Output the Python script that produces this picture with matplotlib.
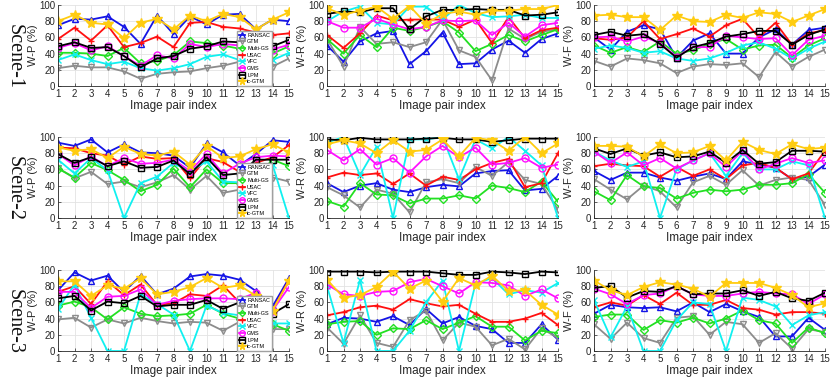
import matplotlib
matplotlib.use("Agg")
import matplotlib.pyplot as plt
import numpy as np

PAIRS = list(range(1, 16))
METHODS = ["RANSAC", "GTM", "Multi-GS", "USAC", "VFC", "GMS", "LPM", "ic-GTM"]
SCENES = ["Scene-1", "Scene-2", "Scene-3"]
METRICS = ["W-P (%)", "W-R (%)", "W-F (%)"]

# Scene-1
S1_WP = {
    "RANSAC":   [75, 83, 82, 86, 73, 52, 87, 64, 86, 76, 88, 89, 70, 82, 80],
    "GTM":      [22, 25, 23, 23, 18, 9, 15, 17, 18, 22, 25, 30, 30, 24, 34],
    "Multi-GS": [41, 41, 40, 37, 47, 28, 31, 38, 55, 53, 50, 46, 40, 40, 49],
    "USAC":     [58, 72, 56, 75, 48, 53, 61, 48, 78, 79, 73, 71, 66, 63, 65],
    "VFC":      [32, 39, 32, 27, 30, 22, 19, 22, 27, 36, 39, 32, 30, 32, 41],
    "GMS":      [47, 53, 44, 49, 37, 25, 38, 34, 52, 48, 52, 50, 42, 45, 51],
    "LPM":      [49, 54, 47, 48, 37, 23, 34, 37, 46, 49, 55, 54, 45, 49, 57],
    "ic-GTM":   [80, 88, 78, 76, 59, 78, 83, 70, 87, 80, 89, 85, 70, 82, 91],
}
S1_WR = {
    "RANSAC":   [50, 30, 55, 65, 68, 27, 43, 66, 27, 28, 45, 56, 41, 58, 65],
    "GTM":      [58, 24, 73, 52, 54, 48, 54, 82, 44, 36, 7, 71, 58, 67, 70],
    "Multi-GS": [58, 40, 63, 48, 72, 68, 73, 80, 66, 43, 52, 63, 55, 63, 70],
    "USAC":     [63, 47, 65, 87, 81, 82, 82, 82, 73, 82, 53, 85, 59, 69, 72],
    "VFC":      [80, 92, 98, 78, 76, 98, 98, 82, 100, 90, 85, 86, 88, 84, 84],
    "GMS":      [80, 72, 72, 83, 76, 70, 73, 81, 80, 81, 63, 78, 61, 75, 78],
    "LPM":      [89, 92, 91, 96, 96, 70, 86, 94, 94, 95, 94, 94, 87, 88, 91],
    "ic-GTM":   [96, 88, 93, 98, 83, 99, 77, 89, 92, 88, 93, 93, 95, 95, 100],
}
S1_WF = {
    "RANSAC":   [60, 45, 67, 75, 70, 35, 56, 65, 40, 40, 60, 70, 51, 69, 72],
    "GTM":      [31, 24, 34, 32, 28, 16, 24, 27, 26, 28, 11, 42, 24, 36, 45],
    "Multi-GS": [50, 41, 48, 42, 55, 40, 44, 52, 58, 45, 50, 51, 35, 50, 59],
    "USAC":     [59, 57, 60, 80, 58, 64, 71, 61, 75, 83, 60, 78, 51, 65, 69],
    "VFC":      [46, 50, 47, 41, 43, 34, 31, 34, 41, 50, 54, 46, 34, 46, 55],
    "GMS":      [60, 61, 55, 61, 53, 36, 48, 48, 62, 60, 58, 59, 38, 57, 62],
    "LPM":      [63, 67, 62, 64, 52, 35, 48, 53, 61, 64, 68, 68, 51, 63, 70],
    "ic-GTM":   [87, 88, 85, 85, 69, 87, 80, 79, 88, 84, 91, 89, 79, 87, 95],
}

# Scene-2
S2_WP = {
    "RANSAC":   [93, 89, 97, 81, 91, 81, 80, 77, 62, 92, 81, 65, 79, 96, 94],
    "GTM":      [62, 49, 57, 42, 45, 38, 44, 53, 35, 52, 31, 35, 40, 50, 45],
    "Multi-GS": [61, 50, 68, 59, 47, 33, 41, 61, 38, 60, 43, 43, 50, 72, 64],
    "USAC":     [87, 86, 80, 77, 66, 76, 73, 74, 49, 74, 69, 57, 68, 75, 90],
    "VFC":      [72, 55, 74, 59, 0, 43, 51, 68, 57, 70, 45, 44, 55, 66, 0],
    "GMS":      [79, 65, 76, 64, 74, 67, 68, 72, 58, 79, 55, 67, 75, 77, 76],
    "LPM":      [79, 68, 75, 64, 70, 62, 63, 71, 54, 75, 53, 55, 72, 72, 72],
    "ic-GTM":   [87, 83, 85, 74, 88, 79, 77, 82, 66, 89, 74, 76, 85, 91, 81],
}
S2_WR = {
    "RANSAC":   [43, 32, 40, 43, 35, 32, 38, 41, 39, 55, 58, 59, 34, 36, 52],
    "GTM":      [38, 28, 13, 35, 30, 7, 44, 48, 43, 63, 52, 69, 47, 42, 10],
    "Multi-GS": [21, 14, 43, 29, 28, 18, 24, 24, 28, 24, 40, 37, 32, 45, 20],
    "USAC":     [50, 56, 53, 55, 42, 55, 40, 51, 47, 60, 68, 73, 38, 43, 80],
    "VFC":      [93, 100, 53, 88, 0, 97, 97, 100, 48, 97, 86, 100, 83, 65, 0],
    "GMS":      [84, 71, 85, 66, 74, 56, 76, 89, 75, 87, 66, 68, 74, 62, 66],
    "LPM":      [97, 96, 99, 97, 97, 97, 98, 99, 97, 97, 94, 96, 98, 98, 98],
    "ic-GTM":   [91, 96, 92, 80, 96, 82, 84, 97, 76, 99, 96, 83, 100, 80, 92],
}
S2_WF = {
    "RANSAC":   [58, 47, 56, 56, 50, 46, 51, 55, 48, 70, 66, 62, 48, 51, 66],
    "GTM":      [48, 35, 23, 40, 33, 13, 44, 52, 41, 59, 40, 47, 50, 47, 16],
    "Multi-GS": [33, 22, 53, 39, 37, 24, 31, 35, 33, 35, 41, 41, 43, 54, 31],
    "USAC":     [64, 67, 65, 64, 51, 63, 52, 60, 48, 65, 68, 62, 48, 55, 83],
    "VFC":      [82, 71, 63, 70, 0, 60, 71, 80, 52, 80, 60, 60, 70, 65, 0],
    "GMS":      [82, 68, 81, 65, 74, 61, 71, 80, 63, 83, 60, 67, 74, 68, 71],
    "LPM":      [86, 79, 86, 77, 81, 75, 76, 82, 68, 84, 67, 69, 83, 83, 82],
    "ic-GTM":   [89, 89, 88, 76, 91, 80, 81, 89, 71, 94, 84, 79, 91, 85, 87],
}

# Scene-3
S3_WP = {
    "RANSAC":   [75, 97, 87, 93, 73, 93, 70, 77, 92, 95, 93, 88, 74, 55, 90],
    "GTM":      [39, 41, 29, 39, 34, 41, 37, 34, 36, 35, 25, 36, 30, 27, 27],
    "Multi-GS": [56, 61, 54, 39, 54, 46, 43, 44, 46, 57, 46, 40, 38, 33, 25],
    "USAC":     [73, 80, 58, 86, 69, 82, 57, 59, 70, 68, 81, 60, 70, 50, 88],
    "VFC":      [52, 82, 41, 0, 0, 70, 58, 45, 0, 56, 47, 44, 40, 34, 34],
    "GMS":      [73, 73, 53, 67, 68, 76, 57, 62, 64, 65, 65, 64, 72, 50, 79],
    "LPM":      [65, 68, 50, 61, 59, 68, 55, 57, 57, 63, 52, 60, 55, 46, 58],
    "ic-GTM":   [86, 86, 68, 81, 77, 90, 70, 73, 79, 90, 78, 81, 68, 50, 87],
}
S3_WR = {
    "RANSAC":   [33, 41, 40, 36, 43, 32, 52, 34, 42, 31, 27, 10, 10, 33, 14],
    "GTM":      [29, 9, 44, 10, 5, 38, 50, 13, 35, 30, 7, 15, 2, 28, 16],
    "Multi-GS": [33, 36, 37, 20, 28, 27, 38, 27, 35, 43, 30, 30, 13, 25, 22],
    "USAC":     [44, 48, 54, 56, 51, 64, 59, 55, 57, 46, 36, 36, 40, 47, 32],
    "VFC":      [80, 10, 88, 0, 0, 25, 60, 87, 0, 83, 90, 70, 75, 72, 84],
    "GMS":      [82, 70, 68, 73, 74, 85, 89, 80, 71, 85, 84, 81, 68, 76, 65],
    "LPM":      [98, 98, 98, 97, 98, 98, 98, 96, 94, 94, 98, 97, 95, 98, 97],
    "ic-GTM":   [88, 66, 69, 79, 98, 77, 87, 61, 90, 81, 93, 74, 75, 57, 45],
}
S3_WF = {
    "RANSAC":   [46, 57, 54, 53, 54, 49, 60, 48, 58, 49, 42, 18, 18, 41, 26],
    "GTM":      [33, 15, 35, 16, 10, 41, 43, 20, 36, 33, 10, 22, 3, 27, 23],
    "Multi-GS": [42, 45, 45, 26, 38, 35, 41, 34, 40, 50, 38, 34, 10, 29, 22],
    "USAC":     [54, 60, 56, 69, 58, 72, 57, 57, 63, 53, 51, 45, 48, 48, 46],
    "VFC":      [63, 17, 55, 0, 0, 38, 60, 58, 0, 66, 63, 55, 32, 44, 48],
    "GMS":      [77, 70, 58, 69, 71, 80, 70, 68, 68, 71, 73, 71, 70, 58, 70],
    "LPM":      [78, 80, 66, 74, 73, 80, 70, 71, 71, 75, 68, 73, 65, 62, 72],
    "ic-GTM":   [87, 75, 69, 79, 85, 82, 77, 67, 84, 84, 84, 78, 69, 54, 59],
}

PANELS = [[S1_WP, S1_WR, S1_WF], [S2_WP, S2_WR, S2_WF], [S3_WP, S3_WR, S3_WF]]

STYLE = {
    "RANSAC":   dict(color="#1414E6", marker="^", mfc="none"),
    "GTM":      dict(color="#8C8C8C", marker="v", mfc="none"),
    "Multi-GS": dict(color="#22E022", marker="D", mfc="none", ms=3.8),
    "USAC":     dict(color="#FF1010", marker="+", mfc="none"),
    "VFC":      dict(color="#10F0F0", marker="x", mfc="none"),
    "GMS":      dict(color="#FF10FF", marker="o", mfc="none"),
    "LPM":      dict(color="#000000", marker="s", mfc="none"),
    "ic-GTM":   dict(color="#FFCC10", marker="*", mfc="#FFCC10", ms=7),
}

plt.rcParams["font.family"] = ["Liberation Sans", "DejaVu Sans"]

fig = plt.figure(figsize=(8.31, 3.89), dpi=100)

lefts = [58 / 831, 327 / 831, 594 / 831]
width = 231 / 831
bottoms = [1 - 86 / 389, 1 - 218 / 389, 1 - 351 / 389]
height = 81 / 389

for r, row in enumerate(PANELS):
    for c, panel in enumerate(row):
        ax = fig.add_axes([lefts[c], bottoms[r], width, height])
        for m in METHODS:
            st = dict(STYLE[m])
            ms = st.pop("ms", 5)
            ax.plot(PAIRS, panel[m], color=st["color"], marker=st["marker"],
                    markerfacecolor=st["mfc"], markeredgecolor=st["color"],
                    markersize=ms, markeredgewidth=1.0, linewidth=1.3, label=m)
        ax.set_xlim(1, 15)
        ax.set_ylim(0, 100)
        ax.set_xticks(PAIRS)
        ax.set_yticks(np.arange(0, 101, 20))
        ax.grid(True, color="#E3E3E3", linewidth=0.6)
        ax.set_axisbelow(True)
        for s in ["top", "right"]:
            ax.spines[s].set_visible(False)
        for s in ["left", "bottom"]:
            ax.spines[s].set_color("#262626")
            ax.spines[s].set_linewidth(0.6)
        ax.tick_params(direction="in", length=2, width=0.5, labelsize=7,
                       colors="#262626", pad=2)
        ax.set_ylabel(METRICS[c], fontsize=8, color="#262626")
        ax.yaxis.set_label_coords(-0.088, 0.5)
        ax.set_xlabel("Image pair index", fontsize=8.5, color="#262626", labelpad=1)
        if c == 0:
            ax.legend(loc="lower left", bbox_to_anchor=(0.775, 0.0), fontsize=4,
                      handlelength=1.2, handletextpad=0.3, labelspacing=0.3,
                      borderpad=0.3, borderaxespad=0.0, fancybox=False,
                      edgecolor="#A0A0A0", framealpha=1.0, markerscale=0.8)
            ax.text(-0.19, 0.36, SCENES[r], transform=ax.transAxes, rotation=-90,
                    ha="center", va="center", fontsize=14.5,
                    family="Liberation Serif", color="#111111")

fig.savefig("out.png", dpi=100)
